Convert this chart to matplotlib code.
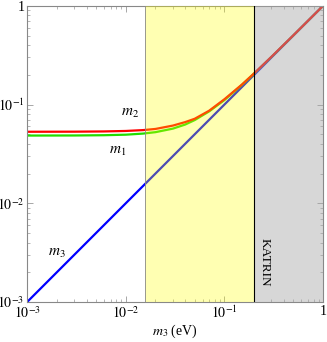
import numpy as np
import matplotlib.pyplot as plt
from matplotlib.ticker import LogLocator, NullFormatter

plt.rcParams['font.family'] = 'Liberation Serif'
plt.rcParams['mathtext.fontset'] = 'stix'

# lightest mass m3 (eV) and the masses
m3 = [0.001, 0.003, 0.006, 0.01, 0.015, 0.02, 0.03, 0.04, 0.05, 0.07,
      0.1, 0.15, 0.2, 0.3, 0.5, 1.0]
m1 = [0.0485, 0.0486, 0.0489, 0.0495, 0.0508, 0.0525, 0.057, 0.0627, 0.0696, 0.0852,
      0.111, 0.158, 0.206, 0.304, 0.502, 1.0]
m2 = [0.053, 0.0531, 0.0534, 0.054, 0.0551, 0.0566, 0.0612, 0.0664, 0.0718, 0.0866,
      0.1132, 0.159, 0.207, 0.305, 0.503, 1.0]

yellow_band = (0.0157, 0.2)
katrin_band = (0.2, 1.0)

fig = plt.figure(figsize=(3.27, 3.42), dpi=100)
ax = fig.add_axes([0.083, 0.117, 0.905, 0.866])

ax.plot(m3, m3, color='#0000ff', lw=1.6, zorder=2)
ax.plot(m3, m1, color='#22dd00', lw=1.6, zorder=2)
ax.plot(m3, m2, color='#ff0000', lw=1.6, zorder=2)

ax.axvspan(*yellow_band, color='#ffff00', alpha=0.3, lw=0, zorder=3)
ax.axvspan(*katrin_band, color='#a8a8a8', alpha=0.45, lw=0, zorder=3)
ax.axvline(katrin_band[0], color='black', lw=0.8, zorder=4)
ax.axvline(yellow_band[0], color='#888888', lw=0.6, zorder=4)

ax.set_xscale('log')
ax.set_yscale('log')
ax.set_xlim(1e-3, 1)
ax.set_ylim(1e-3, 1)
ax.set_xticks([1e-3, 1e-2, 1e-1, 1])
ax.set_xticklabels([r'$10^{-3}$', r'$10^{-2}$', r'$10^{-1}$', '1'])
ax.set_yticks([1e-3, 1e-2, 1e-1, 1])
ax.set_yticklabels([r'$10^{-3}$', r'$10^{-2}$', r'$10^{-1}$', '1'])
for axis in (ax.xaxis, ax.yaxis):
    axis.set_minor_locator(LogLocator(base=10, subs=np.arange(2, 10), numticks=20))
    axis.set_minor_formatter(NullFormatter())
ax.tick_params(which='both', direction='in', top=True, right=True,
               color='#999999', labelsize=10, pad=2)
ax.tick_params(which='major', length=4, width=0.6)
ax.tick_params(which='minor', length=2, width=0.5)
for s in ax.spines.values():
    s.set_color('#888888')
    s.set_linewidth(0.8)

ax.set_xlabel(r'$m_3$ (eV)', fontsize=10, labelpad=1)

ax.text(0.0110, 0.0805, r'$m_2$', fontsize=11, ha='center', va='center')
ax.text(0.0082, 0.0332, r'$m_1$', fontsize=11, ha='center', va='center')
ax.text(0.0020, 0.0031, r'$m_3$', fontsize=11, ha='center', va='center')
ax.text(0.258, 0.00255, 'KATRIN', fontsize=9.5, rotation=-90, ha='center', va='center', zorder=5)

fig.savefig('out.png', dpi=100)
